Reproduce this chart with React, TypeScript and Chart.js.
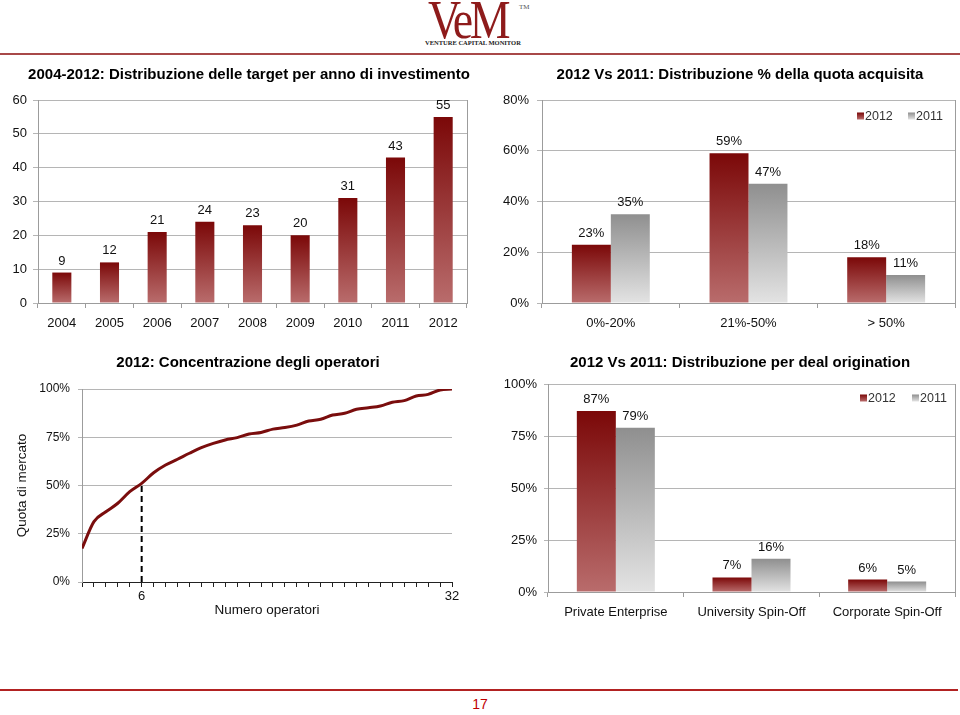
import React, { useEffect, useRef } from 'react';
import { Chart, registerables } from 'chart.js';

Chart.register(...registerables);

const FONT = '"Liberation Sans", Arial, Helvetica, sans-serif';
Chart.defaults.font.family = FONT;
Chart.defaults.color = '#111';

// ---------- DATA ----------
const years = ['2004', '2005', '2006', '2007', '2008', '2009', '2010', '2011', '2012'];
const targetsPerYear = [9, 12, 21, 24, 23, 20, 31, 43, 55];

const quotaCategories = ['0%-20%', '21%-50%', '> 50%'];
const quota2012 = [23, 59, 18];
const quota2011 = [35, 47, 11];

const operatorRank = [1, 2, 3, 4, 5, 6, 7, 8, 9, 10, 11, 12, 13, 14, 15, 16, 17, 18, 19, 20, 21, 22, 23, 24, 25, 26, 27, 28, 29, 30, 31, 32];
const cumulativeShare = [17.4, 31.3, 36.4, 40.8, 46.8, 51.1, 56.6, 60.6, 63.6, 66.7, 69.6, 71.8, 73.6, 74.8, 76.7, 77.5, 79.2, 80.0, 81.3, 83.4, 84.3, 86.5, 87.4, 89.5, 90.3, 91.2, 93.1, 94.0, 96.4, 97.2, 99.5, 100];
const markerOperator = 6;
const labeledOperatorTicks = [6, 32];

const originCategories = ['Private Enterprise', 'University Spin-Off', 'Corporate Spin-Off'];
const origin2012 = [87, 7, 6];
const origin2011 = [79, 16, 5];

const seriesLabels = ['2012', '2011'];

// ---------- STYLE ----------
const RED_TOP = '#7b0808';
const RED_BOTTOM = '#b96c6c';
const GRAY_TOP = '#8f8f8f';
const GRAY_BOTTOM = '#e3e3e3';
const GRID = '#b5b5b5';
const AXIS = '#9c9c9c';

const barGradient = (top: string, bottom: string) => (c: any) => {
  const chart = c.chart;
  const y = chart.scales && chart.scales.y;
  if (c.type !== 'data' || !y || !chart.chartArea) return top;
  const v = c.parsed ? c.parsed.y : c.raw;
  const y0 = y.getPixelForValue(v);
  const y1 = y.getPixelForValue(0);
  if (!isFinite(y0) || !isFinite(y1) || Math.abs(y1 - y0) < 0.5) return top;
  const g = chart.ctx.createLinearGradient(0, y0, 0, y1);
  g.addColorStop(0, top);
  g.addColorStop(1, bottom);
  return g;
};

// ---------- PLUGINS ----------
const valueLabels = {
  id: 'valueLabels',
  afterDatasetsDraw(chart: any, _args: any, opts: any) {
    if (!opts || !opts.enabled) return;
    const { ctx } = chart;
    ctx.save();
    ctx.font = `13px ${FONT}`;
    ctx.fillStyle = '#111';
    ctx.textAlign = 'center';
    ctx.textBaseline = 'alphabetic';
    chart.data.datasets.forEach((ds: any, i: number) => {
      const meta = chart.getDatasetMeta(i);
      meta.data.forEach((el: any, j: number) => {
        ctx.fillText(`${ds.data[j]}${opts.suffix || ''}`, el.x, el.y - 8);
      });
    });
    ctx.restore();
  },
};

const panelTitle = {
  id: 'panelTitle',
  afterDraw(chart: any, _args: any, opts: any) {
    if (!opts || !opts.text) return;
    const { ctx } = chart;
    ctx.save();
    ctx.font = `bold 15px ${FONT}`;
    ctx.fillStyle = '#000';
    ctx.textAlign = 'center';
    ctx.textBaseline = 'middle';
    ctx.fillText(opts.text, opts.x, opts.y);
    ctx.restore();
  },
};

const frameRight = {
  id: 'frameRight',
  afterDraw(chart: any, _args: any, opts: any) {
    if (!opts || !opts.enabled) return;
    const { ctx, chartArea } = chart;
    ctx.save();
    ctx.strokeStyle = AXIS;
    ctx.lineWidth = 1;
    const x = Math.round(chartArea.right) + 0.5;
    ctx.beginPath();
    ctx.moveTo(x, chartArea.top);
    ctx.lineTo(x, chartArea.bottom);
    ctx.stroke();
    ctx.restore();
  },
};

const boxLegend = {
  id: 'boxLegend',
  afterDraw(chart: any, _args: any, opts: any) {
    if (!opts || !opts.items) return;
    const { ctx } = chart;
    ctx.save();
    ctx.font = `12.5px ${FONT}`;
    ctx.fillStyle = '#333';
    ctx.textBaseline = 'middle';
    ctx.textAlign = 'left';
    opts.items.forEach((it: any) => {
      const s = 7;
      const g = ctx.createLinearGradient(0, opts.y - s / 2, 0, opts.y + s / 2);
      g.addColorStop(0, it.top);
      g.addColorStop(1, it.bottom);
      ctx.fillStyle = g;
      ctx.fillRect(it.x, opts.y - s / 2, s, s);
      ctx.fillStyle = '#333';
      ctx.fillText(it.label, it.x + s + 1, opts.y + 0.5);
    });
    ctx.restore();
  },
};

const fixWidth = (w: number) => (scale: any) => { scale.width = w; };
const fixHeight = (h: number) => (scale: any) => { scale.height = h; };

// ---------- CONFIGS ----------
function targetsConfig(): any {
  return {
    type: 'bar',
    data: {
      labels: years,
      datasets: [{
        data: targetsPerYear,
        backgroundColor: barGradient(RED_TOP, RED_BOTTOM),
        categoryPercentage: 1,
        barPercentage: 0.4,
      }],
    },
    options: {
      responsive: false,
      animation: false,
      layout: { padding: { top: 45, right: 13, left: 0, bottom: 0 } },
      plugins: {
        legend: { display: false },
        tooltip: { enabled: false },
        valueLabels: { enabled: true, suffix: '' },
        panelTitle: { text: '2004-2012: Distribuzione delle target per anno di investimento', x: 249, y: 20 },
        frameRight: { enabled: true },
      },
      scales: {
        x: {
          afterFit: fixHeight(42),
          grid: { drawOnChartArea: false, drawTicks: true, tickLength: 5, color: AXIS, offset: true },
          border: { color: AXIS },
          ticks: { font: { size: 13 }, color: '#111', padding: 8, maxRotation: 0 },
        },
        y: {
          min: 0, max: 60,
          afterFit: fixWidth(38),
          grid: { color: GRID, tickLength: 5 },
          border: { color: AXIS },
          ticks: { stepSize: 10, font: { size: 13 }, color: '#111', padding: 6 },
        },
      },
    },
    plugins: [valueLabels, panelTitle, frameRight],
  };
}

function groupedConfig(labels: string[], a: number[], b: number[], title: string, yMax: number, step: number,
  dims: { axisW: number; axisH: number; top: number; right: number; catPct: number; tickPad: number; yTick: number; titleY: number; legendY: number; legendX: number[] }): any {
  return {
    type: 'bar',
    data: {
      labels,
      datasets: [
        { label: seriesLabels[0], data: a, backgroundColor: barGradient(RED_TOP, RED_BOTTOM), categoryPercentage: dims.catPct, barPercentage: 1 },
        { label: seriesLabels[1], data: b, backgroundColor: barGradient(GRAY_TOP, GRAY_BOTTOM), categoryPercentage: dims.catPct, barPercentage: 1 },
      ],
    },
    options: {
      responsive: false,
      animation: false,
      layout: { padding: { top: dims.top, right: dims.right, left: 0, bottom: 0 } },
      plugins: {
        legend: { display: false },
        tooltip: { enabled: false },
        valueLabels: { enabled: true, suffix: '%' },
        panelTitle: { text: title, x: 260, y: dims.titleY },
        frameRight: { enabled: true },
        boxLegend: {
          y: dims.legendY,
          items: [
            { label: seriesLabels[0], x: dims.legendX[0], top: RED_TOP, bottom: RED_BOTTOM },
            { label: seriesLabels[1], x: dims.legendX[1], top: GRAY_TOP, bottom: GRAY_BOTTOM },
          ],
        },
      },
      scales: {
        x: {
          afterFit: fixHeight(dims.axisH),
          grid: { drawOnChartArea: false, drawTicks: true, tickLength: 5, color: AXIS, offset: true },
          border: { color: AXIS },
          ticks: { font: { size: 13 }, color: '#111', padding: 8, maxRotation: 0 },
        },
        y: {
          min: 0, max: yMax,
          afterFit: fixWidth(dims.axisW),
          grid: { color: GRID, tickLength: dims.yTick },
          border: { color: AXIS },
          ticks: { stepSize: step, font: { size: 13 }, color: '#111', padding: dims.tickPad, callback: (v: any) => `${v}%` },
        },
      },
    },
    plugins: [valueLabels, panelTitle, frameRight, boxLegend],
  };
}

function concentrationConfig(): any {
  return {
    type: 'line',
    data: {
      datasets: [
        {
          data: cumulativeShare.map((v, i) => ({ x: operatorRank[i], y: v })),
          borderColor: '#7a0d0d',
          borderWidth: 3,
          pointRadius: 0,
          cubicInterpolationMode: 'monotone',
          order: 0,
        },
        {
          data: [
            { x: markerOperator, y: 0 },
            { x: markerOperator, y: cumulativeShare[operatorRank.indexOf(markerOperator)] },
          ],
          borderColor: '#000',
          borderWidth: 2,
          borderDash: [6, 4],
          pointRadius: 0,
          order: 1,
        },
      ],
    },
    options: {
      responsive: false,
      animation: false,
      layout: { padding: { top: 44, right: 28, left: 0, bottom: 0 } },
      plugins: {
        legend: { display: false },
        tooltip: { enabled: false },
        panelTitle: { text: '2012: Concentrazione degli operatori', x: 248, y: 18 },
      },
      scales: {
        x: {
          type: 'linear',
          min: operatorRank[0],
          max: operatorRank[operatorRank.length - 1],
          afterFit: fixHeight(43),
          grid: { drawOnChartArea: false, drawTicks: true, tickLength: 5, color: '#222' },
          border: { color: '#222' },
          ticks: {
            stepSize: 1, autoSkip: false, maxRotation: 0, padding: 2,
            font: { size: 13 }, color: '#111',
            callback: (v: any) => (labeledOperatorTicks.includes(v) ? String(v) : ''),
          },
          title: { display: true, text: 'Numero operatori', font: { size: 13.5 }, color: '#111', padding: { top: 0, bottom: 7 } },
        },
        y: {
          min: 0, max: 100,
          afterFit: fixWidth(82),
          grid: { color: GRID, tickLength: 4 },
          border: { color: AXIS },
          ticks: { stepSize: 25, font: { size: 12 }, color: '#111', padding: 8, callback: (v: any) => `${v}%` },
          title: { display: true, text: 'Quota di mercato', font: { size: 13.5 }, color: '#111', padding: { top: 14, bottom: 0 } },
        },
      },
    },
    plugins: [panelTitle],
  };
}

// ---------- COMPONENTS ----------
function ChartCanvas({ left, top, width, height, make }: { left: number; top: number; width: number; height: number; make: () => any }) {
  const ref = useRef<HTMLCanvasElement | null>(null);
  useEffect(() => {
    if (!ref.current) return;
    const chart = new Chart(ref.current, make());
    return () => chart.destroy();
  }, []);
  return (
    <canvas
      ref={ref}
      width={width}
      height={height}
      style={{ position: 'absolute', left, top, width, height, display: 'block' }}
    />
  );
}

export default function App() {
  return (
    <div style={{ position: 'fixed', left: 0, top: 0, width: 960, height: 715, background: '#fff', overflow: 'hidden' }}>
      {/* Logo */}
      <div style={{ position: 'absolute', left: 428, top: -7, fontFamily: '"Liberation Serif", "DejaVu Serif", serif', fontSize: 54, lineHeight: '54px', color: '#8e1b1b', letterSpacing: -4, transform: 'scaleX(0.85)', transformOrigin: 'left top', whiteSpace: 'nowrap' }}>VeM</div>
      <div style={{ position: 'absolute', left: 519, top: 3, fontFamily: '"Liberation Serif", serif', fontSize: 7, color: '#555' }}>TM</div>
      <div style={{ position: 'absolute', left: 425, top: 39, fontFamily: '"Liberation Serif", serif', fontSize: 6.5, fontWeight: 'bold', color: '#222', whiteSpace: 'nowrap', letterSpacing: 0 }}>VENTURE CAPITAL MONITOR</div>
      <div style={{ position: 'absolute', left: 0, top: 53, width: 960, height: 2, background: '#a84848' }} />

      <ChartCanvas left={0} top={55} width={480} height={290} make={targetsConfig} />
      <ChartCanvas left={480} top={55} width={480} height={290} make={() => groupedConfig(quotaCategories, quota2012, quota2011, '2012 Vs 2011: Distribuzione % della quota acquisita', 80, 20,
        { axisW: 62, axisH: 42, top: 45, right: 5, catPct: 0.566, tickPad: 8, yTick: 5, titleY: 20, legendY: 61, legendX: [377, 428] })} />
      <ChartCanvas left={0} top={345} width={480} height={280} make={concentrationConfig} />
      <ChartCanvas left={480} top={345} width={480} height={280} make={() => groupedConfig(originCategories, origin2012, origin2011, '2012 Vs 2011: Distribuzione per deal origination', 100, 25,
        { axisW: 68, axisH: 33, top: 39, right: 5, catPct: 0.575, tickPad: 7, yTick: 4, titleY: 18, legendY: 53, legendX: [380, 432] })} />

      {/* Footer */}
      <div style={{ position: 'absolute', left: 0, top: 689, width: 958, height: 2, background: '#b22222' }} />
      <div style={{ position: 'absolute', left: 460, top: 696, width: 40, textAlign: 'center', fontFamily: '"Liberation Sans Narrow", "Liberation Sans", Arial, sans-serif', fontSize: 14, color: '#c00000' }}>17</div>
    </div>
  );
}
